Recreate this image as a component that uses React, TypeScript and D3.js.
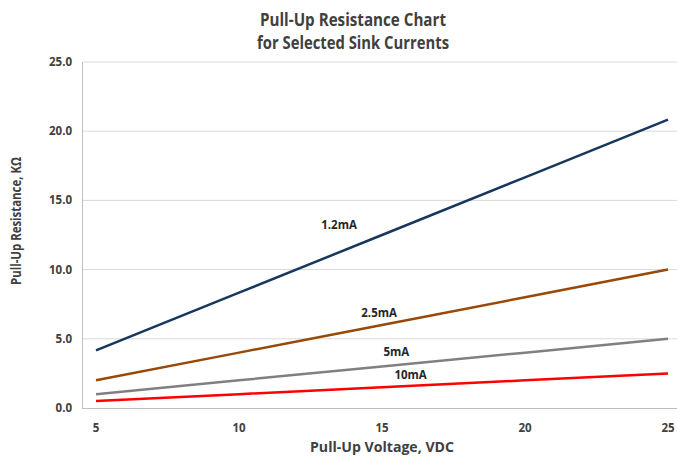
import React, { useEffect, useRef } from 'react';
import * as d3 from 'd3';

const voltages = [5, 10, 15, 20, 25];
const seriesNames = ['1.2mA', '2.5mA', '5mA', '10mA'];
const r12 = [4.17, 8.33, 12.5, 16.67, 20.83];
const r25 = [2.0, 4.0, 6.0, 8.0, 10.0];
const r5 = [1.0, 2.0, 3.0, 4.0, 5.0];
const r10 = [0.5, 1.0, 1.5, 2.0, 2.5];
const seriesColors = ['#17375e', '#984807', '#808080', '#ff0000'];
// label anchor points in data units (voltage, kΩ)
const labelX = [13.5, 14.9, 15.5, 16.0];
const labelY = [13.2, 6.9, 4.05, 2.4];
const yTicks = [0, 5, 10, 15, 20, 25];
const xTicks = [5, 10, 15, 20, 25];

export default function App() {
  const svgRef = useRef<SVGSVGElement>(null);

  useEffect(() => {
    if (!svgRef.current) return;
    const svg = d3.select(svgRef.current);
    svg.selectAll('*').remove();

    const W = 677, H = 461;
    const left = 82, right = 677, top = 62, bottom = 408;
    const x = d3.scaleLinear().domain([5, 25]).range([96, 668]);
    const y = d3.scaleLinear().domain([0, 25]).range([bottom, top]);
    const font = "'Open Sans', sans-serif";
    const txt = '#404040';

    svg.append('rect').attr('width', W).attr('height', H).attr('fill', '#fff');

    // gridlines
    svg.append('g').selectAll('line')
      .data(yTicks.filter(d => d > 0))
      .join('line')
      .attr('x1', left).attr('x2', right)
      .attr('y1', d => y(d)).attr('y2', d => y(d))
      .attr('stroke', '#d9d9d9').attr('stroke-width', 1);

    // axis lines
    svg.append('line').attr('x1', left + 0.5).attr('x2', left + 0.5).attr('y1', top).attr('y2', bottom)
      .attr('stroke', '#bfbfbf');
    svg.append('line').attr('x1', left).attr('x2', right).attr('y1', bottom + 0.5).attr('y2', bottom + 0.5)
      .attr('stroke', '#bfbfbf');

    // tick labels
    svg.append('g').selectAll('text')
      .data(yTicks)
      .join('text')
      .attr('x', 72).attr('y', d => y(d) + 4)
      .attr('text-anchor', 'end')
      .attr('font-family', font).attr('font-size', 11.5).attr('font-weight', 'bold')
      .attr('fill', txt)
      .text(d => d3.format('.1f')(d));

    svg.append('g').selectAll('text')
      .data(xTicks)
      .join('text')
      .attr('x', d => x(d)).attr('y', 432)
      .attr('text-anchor', 'middle')
      .attr('font-family', font).attr('font-size', 11.5).attr('font-weight', 'bold')
      .attr('fill', txt)
      .text(d => String(d));

    // series
    const allSeries = [r12, r25, r5, r10];
    const line = d3.line<number>()
      .x((_, i) => x(voltages[i]))
      .y(d => y(d));

    allSeries.forEach((vals, i) => {
      svg.append('path')
        .datum(vals)
        .attr('fill', 'none')
        .attr('stroke', seriesColors[i])
        .attr('stroke-width', 2.5)
        .attr('d', line);
      svg.append('text')
        .attr('x', x(labelX[i])).attr('y', y(labelY[i]) + 4)
        .attr('text-anchor', 'middle')
        .attr('font-family', font).attr('font-size', 11.5).attr('font-weight', 'bold')
        .attr('fill', '#262626')
        .text(seriesNames[i]);
    });

    // titles
    const title = svg.append('g')
      .attr('font-family', font).attr('font-weight', 'bold').attr('font-size', 17.5)
      .attr('fill', txt).attr('text-anchor', 'middle');
    title.append('text').attr('x', 353).attr('y', 26)
      .attr('textLength', 186).attr('lengthAdjust', 'spacingAndGlyphs')
      .text('Pull-Up Resistance Chart');
    title.append('text').attr('x', 353).attr('y', 49)
      .attr('textLength', 192).attr('lengthAdjust', 'spacingAndGlyphs')
      .text('for Selected Sink Currents');

    svg.append('text')
      .attr('x', 382).attr('y', 452)
      .attr('text-anchor', 'middle')
      .attr('font-family', font).attr('font-weight', 'bold').attr('font-size', 15)
      .attr('fill', txt)
      .attr('textLength', 144).attr('lengthAdjust', 'spacingAndGlyphs')
      .text('Pull-Up Voltage, VDC');

    svg.append('text')
      .attr('transform', 'translate(21,221) rotate(-90)')
      .attr('text-anchor', 'middle')
      .attr('font-family', font).attr('font-weight', 'bold').attr('font-size', 15)
      .attr('fill', txt)
      .attr('textLength', 128).attr('lengthAdjust', 'spacingAndGlyphs')
      .text('Pull-Up Resistance, KΩ');
  }, []);

  return (
    <div style={{ position: 'fixed', left: 0, top: 0, width: 677, height: 461, overflow: 'hidden' }}>
      <svg ref={svgRef} width={677} height={461} style={{ display: 'block' }} />
    </div>
  );
}
